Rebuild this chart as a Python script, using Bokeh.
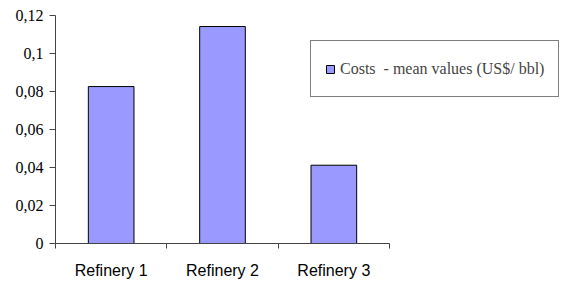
from bokeh.plotting import figure
from bokeh.models import ColumnDataSource, FixedTicker, Legend, LegendItem, Range1d
from bokeh.embed import file_html
from bokeh.resources import INLINE

categories = ["Refinery 1", "Refinery 2", "Refinery 3"]
costs = [0.0826, 0.1142, 0.0412]
y_ticks = [0, 0.02, 0.04, 0.06, 0.08, 0.1, 0.12]
y_tick_labels = ["0", "0,02", "0,04", "0,06", "0,08", "0,1", "0,12"]
legend_label = "Costs  - mean values (US$/ bbl)"

n = len(categories)
xpos = [i + 0.5 for i in range(n)]
src = ColumnDataSource(dict(x=xpos, top=costs, cat=categories))

# frame spans x=55..566 px; axis line spans categories only (55..389 px)
x_end = n * (566 - 55) / (389 - 55)

p = figure(width=566, height=285, output_backend="svg", toolbar_location=None,
           x_range=Range1d(0, x_end), y_range=Range1d(0, 0.12),
           min_border_left=55, min_border_right=0, min_border_top=15, min_border_bottom=42)
p.outline_line_color = None
p.xgrid.visible = False
p.ygrid.visible = False
p.background_fill_color = "white"
p.border_fill_color = "white"

r = p.vbar(x="x", top="top", width=0.41, source=src, fill_color="#9999FF",
           line_color="black", line_width=1)

# x axis
p.xaxis.bounds = (0, n)
p.xaxis.ticker = FixedTicker(ticks=xpos, minor_ticks=list(range(n + 1)))
p.xaxis.major_label_overrides = {x: c for x, c in zip(xpos, categories)}
p.xaxis.major_tick_line_color = None
p.xaxis.minor_tick_out = 5
p.xaxis.minor_tick_in = 0
p.xaxis.minor_tick_line_color = "#444444"
p.xaxis.axis_line_color = "#444444"
p.xaxis.major_label_text_font = "Liberation Sans"
p.xaxis.major_label_text_font_size = "16px"
p.xaxis.major_label_text_color = "black"
p.xaxis.major_label_standoff = 12

# y axis
p.yaxis.ticker = FixedTicker(ticks=y_ticks, minor_ticks=[])
p.yaxis.major_label_overrides = {t: l for t, l in zip(y_ticks, y_tick_labels)}
p.yaxis.major_tick_out = 6
p.yaxis.major_tick_in = 0
p.yaxis.major_tick_line_color = "#444444"
p.yaxis.axis_line_color = "#444444"
p.yaxis.major_label_text_font = "Times New Roman"
p.yaxis.major_label_text_font_size = "16px"
p.yaxis.major_label_text_color = "black"
p.yaxis.major_label_standoff = 6

legend = Legend(items=[LegendItem(label=legend_label, renderers=[r])],
                location=(255, 146), orientation="vertical",
                label_text_font="Times New Roman", label_text_font_size="16px",
                border_line_color="black", border_line_width=1,
                padding=14, margin=0, glyph_width=10, glyph_height=10, label_standoff=5,
                label_height=27, background_fill_alpha=1)
p.add_layout(legend, "center")

open("out.html", "w").write(file_html(p, INLINE))
